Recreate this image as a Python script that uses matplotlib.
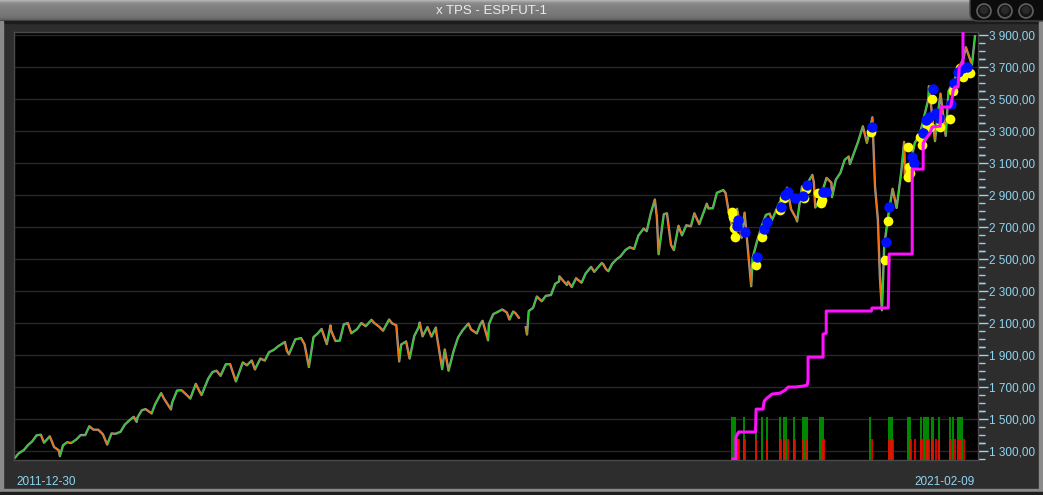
import numpy as np
import pandas as pd
import matplotlib
matplotlib.use('Agg')
import matplotlib.pyplot as plt
import matplotlib.dates as mdates
from matplotlib.collections import LineCollection
from matplotlib.patches import Rectangle, FancyBboxPatch, Circle
from matplotlib.ticker import FixedLocator, FuncFormatter

# ---- data ----
price_dates = [
    '2011-12-30', '2012-01-13', '2012-01-31', '2012-02-15', '2012-02-29', '2012-03-15', '2012-03-30',
    '2012-04-10', '2012-04-30', '2012-05-15', '2012-05-31', '2012-06-04', '2012-06-15', '2012-06-29',
    '2012-07-13', '2012-07-31', '2012-08-15', '2012-08-31', '2012-09-14', '2012-09-28', '2012-10-15',
    '2012-10-31', '2012-11-15', '2012-11-30', '2012-12-14', '2012-12-31',
    '2013-01-15', '2013-01-31', '2013-02-15', '2013-02-25', '2013-02-28', '2013-03-15', '2013-03-28',
    '2013-04-18', '2013-04-30', '2013-05-21', '2013-05-31', '2013-06-24', '2013-06-28', '2013-07-15',
    '2013-07-31', '2013-08-15', '2013-08-30', '2013-09-18', '2013-09-30', '2013-10-08', '2013-10-31',
    '2013-11-15', '2013-11-29', '2013-12-13', '2013-12-31',
    '2014-01-15', '2014-02-04', '2014-02-28', '2014-03-14', '2014-03-31', '2014-04-11', '2014-04-30',
    '2014-05-15', '2014-05-30', '2014-06-15', '2014-06-30', '2014-07-24', '2014-07-31', '2014-08-07',
    '2014-08-29', '2014-09-18', '2014-09-30', '2014-10-15', '2014-10-31', '2014-11-14', '2014-11-28',
    '2014-12-16', '2014-12-29', '2014-12-31',
    '2015-01-15', '2015-01-30', '2015-02-13', '2015-02-27', '2015-03-11', '2015-03-31', '2015-04-15',
    '2015-04-30', '2015-05-20', '2015-05-29', '2015-06-15', '2015-06-29', '2015-07-20', '2015-07-31',
    '2015-08-14', '2015-08-24', '2015-08-31', '2015-09-17', '2015-09-29', '2015-10-15', '2015-10-30',
    '2015-11-03', '2015-11-13', '2015-11-30', '2015-12-14', '2015-12-29', '2015-12-31',
    '2016-01-20', '2016-01-29', '2016-02-11', '2016-02-29', '2016-03-15', '2016-03-31', '2016-04-20',
    '2016-04-29', '2016-05-19', '2016-05-31', '2016-06-08', '2016-06-27', '2016-06-30', '2016-07-15',
    '2016-07-29', '2016-08-15', '2016-08-31', '2016-09-09', '2016-09-22', '2016-09-30', '2016-10-14',
    '2016-10-25', '2016-11-04', '2016-11-09', '2016-11-15', '2016-11-30', '2016-12-13', '2016-12-30',
    '2017-01-13', '2017-01-31', '2017-02-15', '2017-02-28', '2017-03-01', '2017-03-27', '2017-03-31',
    '2017-04-13', '2017-04-28', '2017-05-17', '2017-05-31', '2017-06-19', '2017-06-30', '2017-07-26',
    '2017-07-31', '2017-08-10', '2017-08-18', '2017-08-31', '2017-09-15', '2017-09-29', '2017-10-16',
    '2017-10-31', '2017-11-15', '2017-11-30', '2017-12-18', '2017-12-29',
    '2018-01-12', '2018-01-26', '2018-02-02', '2018-02-08', '2018-02-26', '2018-03-09', '2018-03-23',
    '2018-04-02', '2018-04-18', '2018-04-30', '2018-05-15', '2018-05-31', '2018-06-12', '2018-06-29',
    '2018-07-25', '2018-07-31', '2018-08-15', '2018-08-29', '2018-09-20', '2018-09-28', '2018-10-10',
    '2018-10-29', '2018-11-07', '2018-11-23', '2018-12-03', '2018-12-26', '2018-12-31',
    '2019-01-15', '2019-01-31', '2019-02-15', '2019-02-28', '2019-03-08', '2019-03-29', '2019-04-30',
    '2019-05-13', '2019-05-31', '2019-06-03', '2019-06-20', '2019-06-28', '2019-07-26', '2019-07-31',
    '2019-08-05', '2019-08-15', '2019-08-30', '2019-09-13', '2019-09-30', '2019-10-02', '2019-10-15',
    '2019-10-31', '2019-11-15', '2019-11-29', '2019-12-03', '2019-12-31',
    '2020-01-17', '2020-01-31', '2020-02-19', '2020-02-28', '2020-03-09', '2020-03-16', '2020-03-23',
    '2020-03-31', '2020-04-15', '2020-04-29', '2020-05-13', '2020-05-29', '2020-06-08', '2020-06-11',
    '2020-06-30', '2020-07-15', '2020-07-31', '2020-08-14', '2020-08-31', '2020-09-02', '2020-09-23',
    '2020-09-30', '2020-10-12', '2020-10-30', '2020-11-09', '2020-11-30', '2020-12-15', '2020-12-31',
    '2021-01-08', '2021-01-29', '2021-02-09',
]
price_vals = [
    1255, 1285, 1306, 1338, 1360, 1398, 1402,
    1352, 1392, 1325, 1305, 1268, 1336, 1355,
    1350, 1372, 1400, 1400, 1455, 1434, 1433,
    1405, 1340, 1410, 1408, 1420,
    1465, 1492, 1514, 1482, 1510, 1555, 1562,
    1535, 1592, 1662, 1627, 1560, 1602, 1678,
    1680, 1655, 1628, 1720, 1676, 1650, 1752,
    1794, 1802, 1770, 1842,
    1843, 1735, 1854, 1836, 1866, 1810, 1878,
    1865, 1918, 1932, 1954, 1982, 1925, 1905,
    1998, 2006, 1967, 1825, 2012, 2034, 2063,
    1968, 2085, 2053,
    1988, 1990, 2092, 2100, 2036, 2062, 2100,
    2080, 2120, 2101, 2078, 2052, 2122, 2097,
    2086, 1860, 1966, 1985, 1878, 2018, 2072,
    2103, 2017, 2075, 2015, 2072, 2038,
    1812, 1935, 1802, 1928, 2010, 2055, 2097,
    2060, 2035, 2092, 2114, 1992, 2093, 2156,
    2168, 2185, 2166, 2122, 2172, 2162, 2128,
    np.nan, 2080, 2028, 2175, 2195, 2266, 2236,
    2270, 2275, 2346, 2360, 2392, 2338, 2359,
    2325, 2380, 2352, 2409, 2451, 2420, 2475,
    2468, 2436, 2424, 2470, 2498, 2517, 2556,
    2574, 2563, 2647, 2690, 2674,
    2786, 2872, 2762, 2530, 2780, 2786, 2588,
    2556, 2708, 2648, 2711, 2705, 2786, 2718,
    2846, 2816, 2818, 2914, 2931, 2914, 2786,
    2641, 2814, 2633, 2790, 2330, 2507,
    2610, 2704, 2776, 2784, 2743, 2834, 2946,
    2812, 2752, 2735, 2954, 2942, 3026, 2980,
    2822, 2848, 2926, 3007, 2977, 2887, 2995,
    3038, 3120, 3141, 3093, 3231,
    3330, 3226, 3386, 2954, 2746, 2386, 2180,
    2585, 2783, 2939, 2820, 3044, 3232, 3002,
    3100, 3227, 3271, 3373, 3500, 3580, 3237,
    3363, 3534, 3270, 3550, 3622, 3694, 3756,
    3824, 3714, 3900,
]

yellow_dates = ['2018-10-22', '2018-10-24', '2018-10-27', '2018-11-01', '2019-01-11', '2019-02-02',
                '2019-04-05', '2019-04-17', '2019-06-28', '2019-07-03', '2019-08-15', '2019-08-25',
                '2019-08-29', '2020-02-15', '2020-04-01', '2020-04-14', '2020-06-22', '2020-06-26',
                '2020-06-22', '2020-06-29', '2020-08-02', '2020-08-09', '2020-08-27', '2020-09-06',
                '2020-09-13', '2020-10-11', '2020-11-14', '2020-11-25', '2020-12-19', '2020-12-29',
                '2021-01-22']
yellow_vals = [2794, 2762, 2694, 2637, 2462, 2637,
               2806, 2881, 2881, 2937, 2912, 2850,
               2869, 3294, 2494, 2740, 3200, 3075,
               3014, 3037, 3262, 3212, 3337, 3325,
               3500, 3325, 3375, 3550, 3694, 3637,
               3660]
blue_dates = ['2018-11-06', '2018-11-09', '2018-12-04', '2019-01-16', '2019-02-09', '2019-02-19',
              '2019-04-09', '2019-04-23', '2019-05-03', '2019-05-27', '2019-06-24', '2019-07-08',
              '2019-09-01', '2019-09-12', '2020-02-16', '2020-04-06', '2020-04-17', '2020-07-06',
              '2020-07-13', '2020-08-13', '2020-08-23', '2020-09-02', '2020-09-16', '2020-09-26',
              '2020-10-07', '2020-11-18', '2020-11-28', '2020-12-12', '2020-12-26', '2021-01-12']
blue_vals = [2706, 2744, 2669, 2512, 2687, 2731,
             2825, 2900, 2919, 2881, 2894, 2962,
             2919, 2919, 3325, 2606, 2825, 3137,
             3100, 3287, 3369, 3387, 3562, 3412,
             3381, 3469, 3600, 3669, 3694, 3700]

stop_dates = ['2018-10-24', '2018-11-03', '2018-11-03', '2018-11-10', '2018-11-13', '2019-01-10',
              '2019-01-12', '2019-02-05', '2019-02-09', '2019-02-19', '2019-03-08', '2019-04-05',
              '2019-04-23', '2019-05-03', '2019-05-27', '2019-06-24', '2019-07-08', '2019-07-11',
              '2019-07-11', '2019-09-01', '2019-09-01', '2019-09-12', '2019-09-12', '2020-02-15',
              '2020-02-18', '2020-04-14', '2020-04-17', '2020-07-06', '2020-07-06', '2020-08-13',
              '2020-08-13', '2020-08-20', '2020-08-27', '2020-09-06', '2020-09-13', '2020-10-11',
              '2020-10-14', '2020-11-14', '2020-11-18', '2020-11-25', '2020-12-02', '2020-12-12',
              '2020-12-16', '2020-12-26', '2020-12-29', '2020-12-29']
stop_vals = [1250, 1250, 1387, 1412, 1419, 1419,
             1562, 1562, 1612, 1631, 1656, 1662,
             1681, 1700, 1700, 1706, 1712, 1744,
             1887, 1887, 2031, 2037, 2175, 2175,
             2194, 2194, 2531, 2531, 3062, 3062,
             3225, 3244, 3262, 3287, 3325, 3331,
             3450, 3450, 3462, 3556, 3575, 3575,
             3700, 3725, 3725, 4000]

long_dates = ['2018-10-22', '2018-10-27', '2018-11-01', '2018-12-02', '2019-01-11', '2019-02-01',
              '2019-02-17', '2019-04-06', '2019-04-17', '2019-04-27', '2019-05-25', '2019-06-23',
              '2019-07-02', '2019-07-06', '2019-08-22', '2019-08-29', '2019-09-01', '2020-02-12',
              '2020-04-16', '2020-04-24', '2020-04-27', '2020-06-21', '2020-06-24', '2020-06-30',
              '2020-08-05', '2020-08-07', '2020-08-15', '2020-08-22', '2020-08-26', '2020-08-29',
              '2020-09-14', '2020-09-17', '2020-10-07', '2020-11-15', '2020-11-26', '2020-12-10',
              '2020-12-19', '2020-12-24']
short_dates = ['2018-11-09', '2018-11-12', '2018-12-04', '2019-01-12', '2019-02-19', '2019-04-07',
               '2019-04-20', '2019-05-01', '2019-05-28', '2019-06-25', '2019-07-03', '2019-08-31',
               '2019-09-05', '2020-02-16', '2020-04-16', '2020-04-20', '2020-04-30', '2020-07-03',
               '2020-07-14', '2020-08-05', '2020-08-14', '2020-08-24', '2020-09-02', '2020-09-17',
               '2020-09-27', '2020-10-08', '2020-11-17', '2020-12-01', '2020-12-11', '2020-12-20',
               '2021-01-01']
long_top = 1512
short_top = 1375

first_label = '2011-12-30'
last_label = '2021-02-09'
title = 'x TPS - ESPFUT-1'
price_ticks = list(range(1300, 4000, 200))

# ---- figure / window chrome ----
W, H = 1043, 495
fig = plt.figure(figsize=(W / 100, H / 100), dpi=100)
fig.patch.set_facecolor('#2d2d2d')

bg = fig.add_axes([0, 0, 1, 1])
bg.set_xlim(0, W)
bg.set_ylim(H, 0)
bg.axis('off')

grad = np.array([0.70, 0.64, 0.58, 0.55, 0.53, 0.52, 0.51, 0.50, 0.50, 0.49, 0.49, 0.48,
                 0.48, 0.47, 0.47, 0.46, 0.45, 0.44, 0.42, 0.38, 0.30]).reshape(-1, 1)
bg.imshow(np.repeat(grad, 2, axis=1), cmap='gray', vmin=0, vmax=1, aspect='auto',
          extent=[0, W, 21, 0], interpolation='bilinear', zorder=1)
bg.add_patch(Rectangle((0, 21), W, 1.5, color='#1c1c1c', zorder=2))
bg.text(492, 11.5, title, ha='center', va='center', color='#ececec', fontsize=9.5,
        family=['Liberation Sans Narrow', 'Liberation Sans', 'DejaVu Sans'], zorder=3)

bg.add_patch(FancyBboxPatch((970, -6), 80, 27, boxstyle='round,pad=0,rounding_size=8',
                            fc='#0c0c0c', ec='#444444', lw=1, zorder=3))
for cx in [984, 1005, 1026]:
    bg.add_patch(Circle((cx, 11), 7, fc='#161616', ec='#606060', lw=1.2, zorder=4))
    bg.add_patch(Circle((cx, 10), 4, fc='#2a2a2a', ec='none', zorder=5))

# outer window border
bg.add_patch(Rectangle((0, 21), 3, H - 21, color='#8a8a8a', zorder=2))
bg.add_patch(Rectangle((W - 4, 21), 4, H - 21, color='#8a8a8a', zorder=2))
bg.add_patch(Rectangle((0, 489), W, 3, color='#8a8a8a', zorder=2))
bg.add_patch(Rectangle((0, 492), W, 3, color='#1e1e1e', zorder=2))

lab_color = '#8fd6f2'
bg.text(16, 482, first_label, ha='left', va='center', color=lab_color, fontsize=8.5,
        family='Liberation Sans')
bg.text(975, 482, last_label, ha='right', va='center', color=lab_color, fontsize=8.5,
        family='Liberation Sans')

# ---- price axes ----
ax = fig.add_axes([14 / W, 35 / H, 964 / W, 428 / H])
ax.set_facecolor('black')
for s in ax.spines.values():
    s.set_color('#4a4a4a')
    s.set_linewidth(1)

x = mdates.date2num(pd.to_datetime(price_dates))
y = np.array(price_vals, dtype=float)

ok = np.isfinite(y)
segs, cols = [], []
for i in range(len(x) - 1):
    if ok[i] and ok[i + 1]:
        segs.append([(x[i], y[i]), (x[i + 1], y[i + 1])])
        cols.append('#1fd01f' if y[i + 1] >= y[i] else '#ff6a00')
ax.plot(x, y, color='#9a9a9a', lw=1.7, zorder=2, solid_capstyle='butt')
ax.add_collection(LineCollection(segs, colors=cols, linewidths=0.9, zorder=3))

ax.vlines(mdates.date2num(pd.to_datetime(long_dates)), 1200, long_top, color='#008a00', lw=1.4, zorder=2)
ax.vlines(mdates.date2num(pd.to_datetime(short_dates)), 1200, short_top, color='#ff0000', lw=1.2, zorder=2)

ax.plot(pd.to_datetime(yellow_dates), yellow_vals, 'o', color='#ffff00', ms=7, mec='none', zorder=4)
ax.plot(pd.to_datetime(blue_dates), blue_vals, 'o', color='#0010ff', ms=7.5, mec='none', zorder=5)

ax.plot(pd.to_datetime(stop_dates), stop_vals, color='#ff10ff', lw=2.2, zorder=6)

ax.set_xlim(mdates.date2num(pd.Timestamp('2011-12-28')), mdates.date2num(pd.Timestamp('2021-02-19')))
ax.set_ylim(1244, 3919)

ax.xaxis.set_visible(False)
ax.yaxis.tick_right()
ax.yaxis.set_major_locator(FixedLocator(price_ticks))
ax.yaxis.set_minor_locator(FixedLocator([v + d for v in price_ticks for d in (-150, -100, -50, 50)
                                         if 1244 <= v + d <= 3919]))
ax.yaxis.set_major_formatter(FuncFormatter(
    lambda v, p: f'{v:,.2f}'.replace(',', ' ').replace('.', ',')))
ax.tick_params(axis='y', which='major', colors=lab_color, length=7, width=1, pad=1,
               labelsize=8.5)
ax.tick_params(axis='y', which='minor', colors=lab_color, length=5, width=1)
for t in ax.get_yticklabels():
    t.set_family('Liberation Sans')
ax.grid(axis='y', which='major', color='#272727', lw=1)
ax.set_axisbelow(True)

fig.savefig('out.png', dpi=100, facecolor=fig.get_facecolor())
